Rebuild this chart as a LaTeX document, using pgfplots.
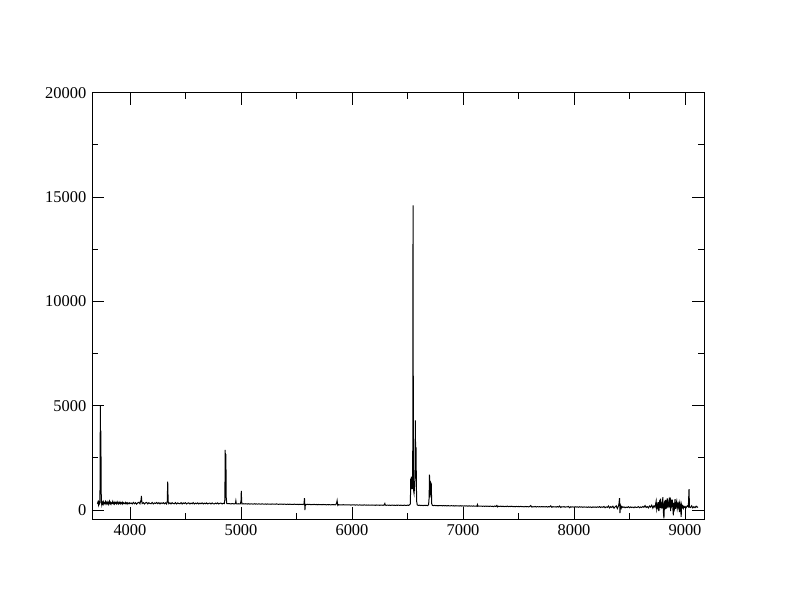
\documentclass[border=0pt]{standalone}
\usepackage{fontspec}
\setmainfont{Liberation Serif}
\usepackage{pgfplots}
\pgfplotsset{compat=1.18}
\begin{document}
\fontsize{16.5}{20}\selectfont
\begin{tikzpicture}
\path[use as bounding box] (-92bp,-92.7bp) rectangle (700bp,519.3bp);
\begin{axis}[
    at={(0,0)}, anchor=south west,
    scale only axis,
    width=612bp, height=426.6bp,
    xmin=3658, xmax=9171,
    ymin=-446, ymax=20000,
    xtick={4000,5000,...,9000},
    ytick={0,5000,...,20000},
    minor x tick num=1,
    minor y tick num=1,
    tick align=inside,
    major tick length=12bp,
    minor tick length=6bp,
    scaled ticks=false,
    /pgf/number format/set thousands separator={},
    /pgf/number format/assume math mode=true,
    tick label style={font=\fontsize{16.5}{20}\selectfont},
    axis line style={line width=0.8bp},
    every tick/.style={black, line width=0.8bp},
]
% spectrum
\addplot[black, line width=1bp, mark=none] coordinates {
(3707,300) (3712,380) (3716,250) (3720,360) (3724,290) (3728,340) (3731,1200) (3733,5000)
(3735,2200) (3738,3800) (3740,1500) (3742,380) (3746,250) (3750,370) (3755,300) (3760,390)
(3765,280) (3770,350) (3775,320) (3780,400) (3785,290) (3790,360) (3795,310) (3800,380)
(3805,270) (3810,340) (3815,420) (3820,300) (3825,360) (3830,280) (3835,350) (3840,330)
(3845,410) (3850,300) (3855,340) (3860,290) (3865,380) (3870,320) (3875,350) (3880,300)
(3885,390) (3890,330) (3895,290) (3900,360) (3905,320) (3910,380) (3915,300) (3920,340)
(3925,310) (3930,370) (3935,290) (3940,350) (3945,320) (3950,330) (3955,300) (3960,360)
(3965,310) (3970,340) (3975,290) (3980,350) (3985,320) (3990,300) (3995,340) (4000,310)
(4010,340) (4020,290) (4030,360) (4040,300) (4050,350) (4060,280) (4070,340) (4080,370)
(4090,300) (4095,400) (4100,480) (4103,670) (4106,450) (4110,310) (4120,350) (4130,290)
(4140,340) (4150,360) (4160,290) (4170,350) (4180,310) (4190,300) (4200,360) (4210,290)
(4220,340) (4230,310) (4240,360) (4250,300) (4260,350) (4270,290) (4280,340) (4290,310)
(4300,350) (4310,300) (4320,340) (4330,290) (4336,420) (4340,1360) (4344,400) (4350,300)
(4360,340) (4370,290) (4380,350) (4390,310) (4400,300) (4410,350) (4420,290) (4430,340)
(4440,310) (4450,300) (4460,350) (4470,290) (4480,340) (4490,310) (4500,350) (4510,290)
(4520,330) (4530,340) (4540,290) (4550,330) (4560,300) (4570,350) (4580,290) (4590,330)
(4600,300) (4610,340) (4620,290) (4630,330) (4640,300) (4650,340) (4660,290) (4670,330)
(4680,300) (4690,340) (4700,290) (4710,320) (4720,330) (4730,290) (4740,340) (4750,300)
(4760,290) (4770,330) (4780,300) (4790,340) (4800,290) (4810,320) (4820,330) (4830,290)
(4840,320) (4850,310) (4855,500) (4858,2880) (4861,1500) (4864,2680) (4867,600) (4872,310)
(4880,300) (4890,310) (4900,300) (4910,290) (4920,310) (4930,300) (4940,290) (4950,310)
(4954,440) (4958,300) (4965,290) (4975,300) (4985,290) (4995,300) (5000,420) (5003,910)
(5006,400) (5010,290) (5020,300) (5030,290) (5040,300) (5050,295) (5060,285) (5070,300)
(5080,280) (5090,295) (5100,290) (5110,280) (5120,300) (5130,285) (5140,290) (5150,280)
(5160,295) (5170,285) (5180,280) (5190,295) (5200,285) (5210,280) (5220,290) (5230,275)
(5240,290) (5250,280) (5260,285) (5270,275) (5280,290) (5290,280) (5300,285) (5310,275)
(5320,290) (5330,280) (5340,270) (5350,285) (5360,275) (5370,280) (5380,270) (5390,285)
(5400,275) (5410,270) (5420,280) (5430,265) (5440,280) (5450,270) (5460,275) (5470,265)
(5480,280) (5490,270) (5500,265) (5510,275) (5520,260) (5530,275) (5540,265) (5550,270)
(5560,260) (5568,300) (5572,570) (5576,0) (5580,270) (5590,260) (5600,275) (5610,260)
(5620,270) (5630,255) (5640,265) (5650,260) (5660,270) (5670,255) (5680,265) (5690,250)
(5700,265) (5710,255) (5720,260) (5730,250) (5740,265) (5750,255) (5760,260) (5770,245)
(5780,260) (5790,250) (5800,255) (5810,245) (5820,260) (5830,250) (5840,255) (5850,245)
(5860,300) (5866,450) (5872,220) (5880,255) (5890,245) (5900,250) (5910,240) (5920,255)
(5930,245) (5940,250) (5950,240) (5960,250) (5970,240) (5980,250) (5990,235) (6000,245)
(6010,240) (6020,250) (6030,235) (6040,245) (6050,240) (6060,235) (6070,245) (6080,235)
(6090,240) (6100,230) (6110,245) (6120,235) (6130,240) (6140,230) (6150,240) (6160,235)
(6170,230) (6180,240) (6190,230) (6200,235) (6210,225) (6220,240) (6230,230) (6240,235)
(6250,225) (6260,235) (6270,230) (6280,225) (6290,240) (6296,310) (6300,230) (6310,225)
(6320,235) (6330,225) (6340,230) (6350,220) (6360,235) (6370,225) (6380,230) (6390,220)
(6400,230) (6410,225) (6420,235) (6430,220) (6440,230) (6450,225) (6460,220) (6470,230)
(6480,225) (6490,220) (6500,230) (6510,225) (6520,250) (6526,300) (6529,1500) (6532,1000)
(6535,1600) (6538,1200) (6541,1300) (6544,1000) (6547,1400) (6550,14600) (6553,1200) (6556,900)
(6559,800) (6562,1000) (6565,1300) (6568,2000) (6571,4300) (6574,1500) (6577,3000) (6580,1200)
(6583,400) (6588,240) (6600,220) (6610,230) (6620,215) (6630,225) (6640,210) (6650,225)
(6660,215) (6670,220) (6680,210) (6690,250) (6695,600) (6698,1700) (6702,600) (6706,900)
(6710,1300) (6714,1250) (6718,300) (6725,220) (6735,210) (6745,220) (6755,205) (6765,215)
(6775,200) (6785,215) (6795,205) (6805,210) (6815,200) (6825,215) (6835,200) (6845,210)
(6855,195) (6865,210) (6875,200) (6885,195) (6895,210) (6905,195) (6915,205) (6925,190)
(6935,205) (6945,195) (6955,200) (6965,190) (6975,205) (6985,190) (6995,200) (7005,185)
(7015,200) (7025,190) (7035,195) (7045,185) (7055,200) (7065,185) (7075,195) (7085,180)
(7095,195) (7105,185) (7115,190) (7125,180) (7130,260) (7135,180) (7145,190) (7155,180)
(7165,190) (7175,175) (7185,185) (7195,175) (7205,190) (7215,175) (7225,185) (7235,170)
(7245,185) (7255,175) (7265,180) (7275,160) (7285,190) (7295,170) (7305,220) (7310,150)
(7320,180) (7330,170) (7340,185) (7350,165) (7360,180) (7370,160) (7380,175) (7390,165)
(7400,185) (7410,160) (7420,175) (7430,165) (7440,180) (7450,160) (7460,170) (7470,155)
(7480,175) (7490,160) (7500,170) (7510,155) (7520,175) (7530,160) (7540,165) (7550,150)
(7560,170) (7570,155) (7580,165) (7590,150) (7600,165) (7610,210) (7620,140) (7630,160)
(7640,150) (7650,170) (7660,145) (7670,165) (7680,150) (7690,160) (7700,145) (7710,165)
(7720,150) (7730,160) (7740,145) (7750,165) (7760,140) (7770,160) (7780,150) (7790,200)
(7800,130) (7810,160) (7820,145) (7830,155) (7840,140) (7850,165) (7860,140) (7870,190)
(7880,120) (7890,155) (7900,145) (7910,160) (7920,135) (7930,150) (7940,145) (7950,170)
(7960,110) (7970,155) (7980,140) (7990,150) (8000,135) (8010,155) (8020,140) (8030,150)
(8040,130) (8050,155) (8060,135) (8070,150) (8080,130) (8090,150) (8100,135) (8110,145)
(8120,125) (8130,150) (8140,130) (8150,145) (8160,120) (8170,150) (8180,130) (8190,145)
(8200,125) (8210,150) (8220,130) (8230,160) (8240,120) (8250,150) (8260,130) (8270,170)
(8280,110) (8290,150) (8300,130) (8310,190) (8320,100) (8330,160) (8340,120) (8350,180)
(8360,90) (8370,150) (8380,200) (8390,70) (8400,180) (8405,300) (8410,570) (8414,-150)
(8418,220) (8425,90) (8430,170) (8440,120) (8450,150) (8460,110) (8470,140) (8480,120)
(8490,160) (8500,110) (8510,150) (8520,120) (8530,140) (8540,110) (8550,150) (8560,120)
(8570,130) (8580,160) (8590,110) (8600,150) (8610,120) (8620,170) (8630,130) (8640,210)
(8650,120) (8660,160) (8670,100) (8680,190) (8690,140) (8700,230) (8710,90) (8720,200)
(8730,130) (8740,420) (8745,60) (8750,250) (8756,120) (8760,380) (8765,-50) (8770,300)
(8775,100) (8780,540) (8785,150) (8790,260) (8795,80) (8800,620) (8805,-100) (8810,-400)
(8815,300) (8820,180) (8825,480) (8830,50) (8835,350) (8840,550) (8845,90) (8850,300)
(8855,450) (8860,130) (8865,600) (8870,-50) (8875,380) (8880,250) (8885,500) (8890,100)
(8895,-260) (8900,350) (8905,150) (8910,520) (8915,60) (8920,300) (8925,420) (8930,80)
(8935,250) (8940,150) (8945,400) (8950,-100) (8955,330) (8960,200) (8965,-330) (8970,250)
(8975,120) (8980,180) (8985,80) (8990,160) (8995,130) (9000,170) (9010,110) (9020,200)
(9030,150) (9036,1000) (9040,140) (9050,120) (9060,200) (9070,100) (9080,160) (9090,110)
(9100,180) (9110,130) (9117,150)
};
\end{axis}
\end{tikzpicture}
\end{document}
